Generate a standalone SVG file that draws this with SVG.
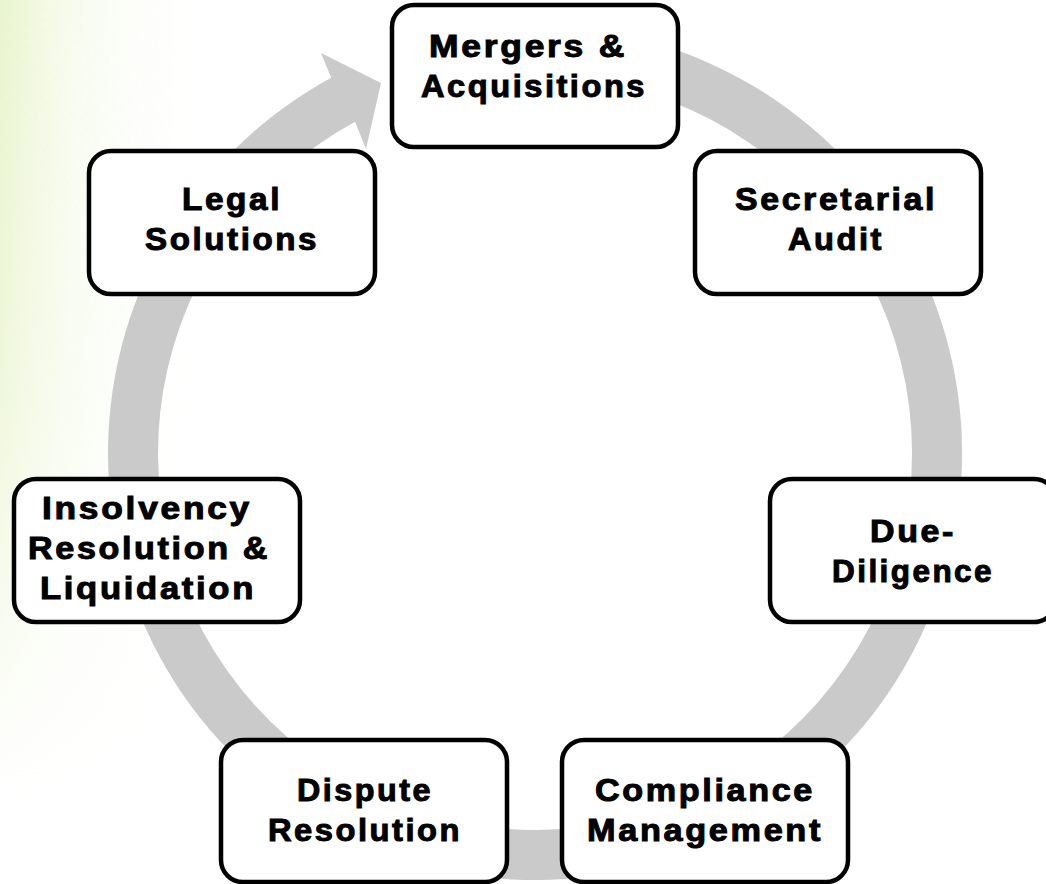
<svg xmlns="http://www.w3.org/2000/svg" width="1046" height="884" viewBox="0 0 1046 884">
  <defs>
    <linearGradient id="glowH" x1="0" y1="0" x2="1" y2="0">
      <stop offset="0" stop-color="#dff0b8" stop-opacity="0.7"/>
      <stop offset="0.35" stop-color="#ecf6d8" stop-opacity="0.4"/>
      <stop offset="1" stop-color="#ffffff" stop-opacity="0"/>
    </linearGradient>
    <linearGradient id="fadeV" x1="0" y1="0" x2="0" y2="1">
      <stop offset="0" stop-color="#fff" stop-opacity="1"/>
      <stop offset="0.45" stop-color="#fff" stop-opacity="0.7"/>
      <stop offset="0.9" stop-color="#fff" stop-opacity="0"/>
    </linearGradient>
    <mask id="glowMask">
      <rect x="0" y="0" width="220" height="884" fill="url(#fadeV)"/>
    </mask>
    <style>
      .box { fill: #ffffff; stroke: #000000; stroke-width: 4.5; }
      .lbl { font-family: "Liberation Sans", Arial, sans-serif; font-weight: bold; font-size: 31px; letter-spacing: 2.4px; fill: #000000; text-anchor: middle; stroke: #000; stroke-width: 1; }
      .ring { fill: #cacaca; }
    </style>
  </defs>

  <rect width="1046" height="884" fill="#ffffff"/>
  <!-- soft green glow on the left edge -->
  <rect x="0" y="0" width="220" height="884" fill="url(#glowH)" mask="url(#glowMask)"/>

  <!-- circular arrow behind the nodes -->
  <g id="connectors">
    <path class="ring" d="M535,26 A427,427 0 1 1 331.2,77.8 L321,53 L381,83 L366,149 L355.1,121.7 A377,377 0 1 0 535,76 Z"/>
  </g>

  <g id="node-mergers">
    <rect class="box" x="392" y="5" width="286" height="142" rx="22"/>
    <text class="lbl" x="528" y="57" textLength="198" lengthAdjust="spacingAndGlyphs">Mergers &amp;</text>
    <text class="lbl" x="534" y="97" textLength="226" lengthAdjust="spacingAndGlyphs">Acquisitions</text>
  </g>
  <g id="node-secretarial">
    <rect class="box" x="695" y="151" width="286" height="143" rx="22"/>
    <text class="lbl" x="836" y="210" textLength="202" lengthAdjust="spacingAndGlyphs">Secretarial</text>
    <text class="lbl" x="836" y="250" textLength="96" lengthAdjust="spacingAndGlyphs">Audit</text>
  </g>
  <g id="node-due-diligence">
    <rect class="box" x="770" y="479" width="286" height="143" rx="22"/>
    <text class="lbl" x="913" y="542" textLength="86" lengthAdjust="spacingAndGlyphs">Due-</text>
    <text class="lbl" x="913" y="582" textLength="162" lengthAdjust="spacingAndGlyphs">Diligence</text>
  </g>
  <g id="node-compliance">
    <rect class="box" x="562" y="740" width="286" height="142" rx="22"/>
    <text class="lbl" x="705" y="801" textLength="220" lengthAdjust="spacingAndGlyphs">Compliance</text>
    <text class="lbl" x="705" y="841" textLength="236" lengthAdjust="spacingAndGlyphs">Management</text>
  </g>
  <g id="node-dispute">
    <rect class="box" x="221" y="740" width="286" height="142" rx="22"/>
    <text class="lbl" x="365" y="801" textLength="136" lengthAdjust="spacingAndGlyphs">Dispute</text>
    <text class="lbl" x="365" y="841" textLength="194" lengthAdjust="spacingAndGlyphs">Resolution</text>
  </g>
  <g id="node-insolvency">
    <rect class="box" x="14" y="479" width="286" height="143" rx="22"/>
    <text class="lbl" x="147" y="519" textLength="210" lengthAdjust="spacingAndGlyphs">Insolvency</text>
    <text class="lbl" x="149" y="559" textLength="242" lengthAdjust="spacingAndGlyphs">Resolution &amp;</text>
    <text class="lbl" x="148" y="599" textLength="216" lengthAdjust="spacingAndGlyphs">Liquidation</text>
  </g>
  <g id="node-legal">
    <rect class="box" x="89" y="151" width="286" height="143" rx="22"/>
    <text class="lbl" x="232" y="210" textLength="100" lengthAdjust="spacingAndGlyphs">Legal</text>
    <text class="lbl" x="232" y="250" textLength="174" lengthAdjust="spacingAndGlyphs">Solutions</text>
  </g>
</svg>
